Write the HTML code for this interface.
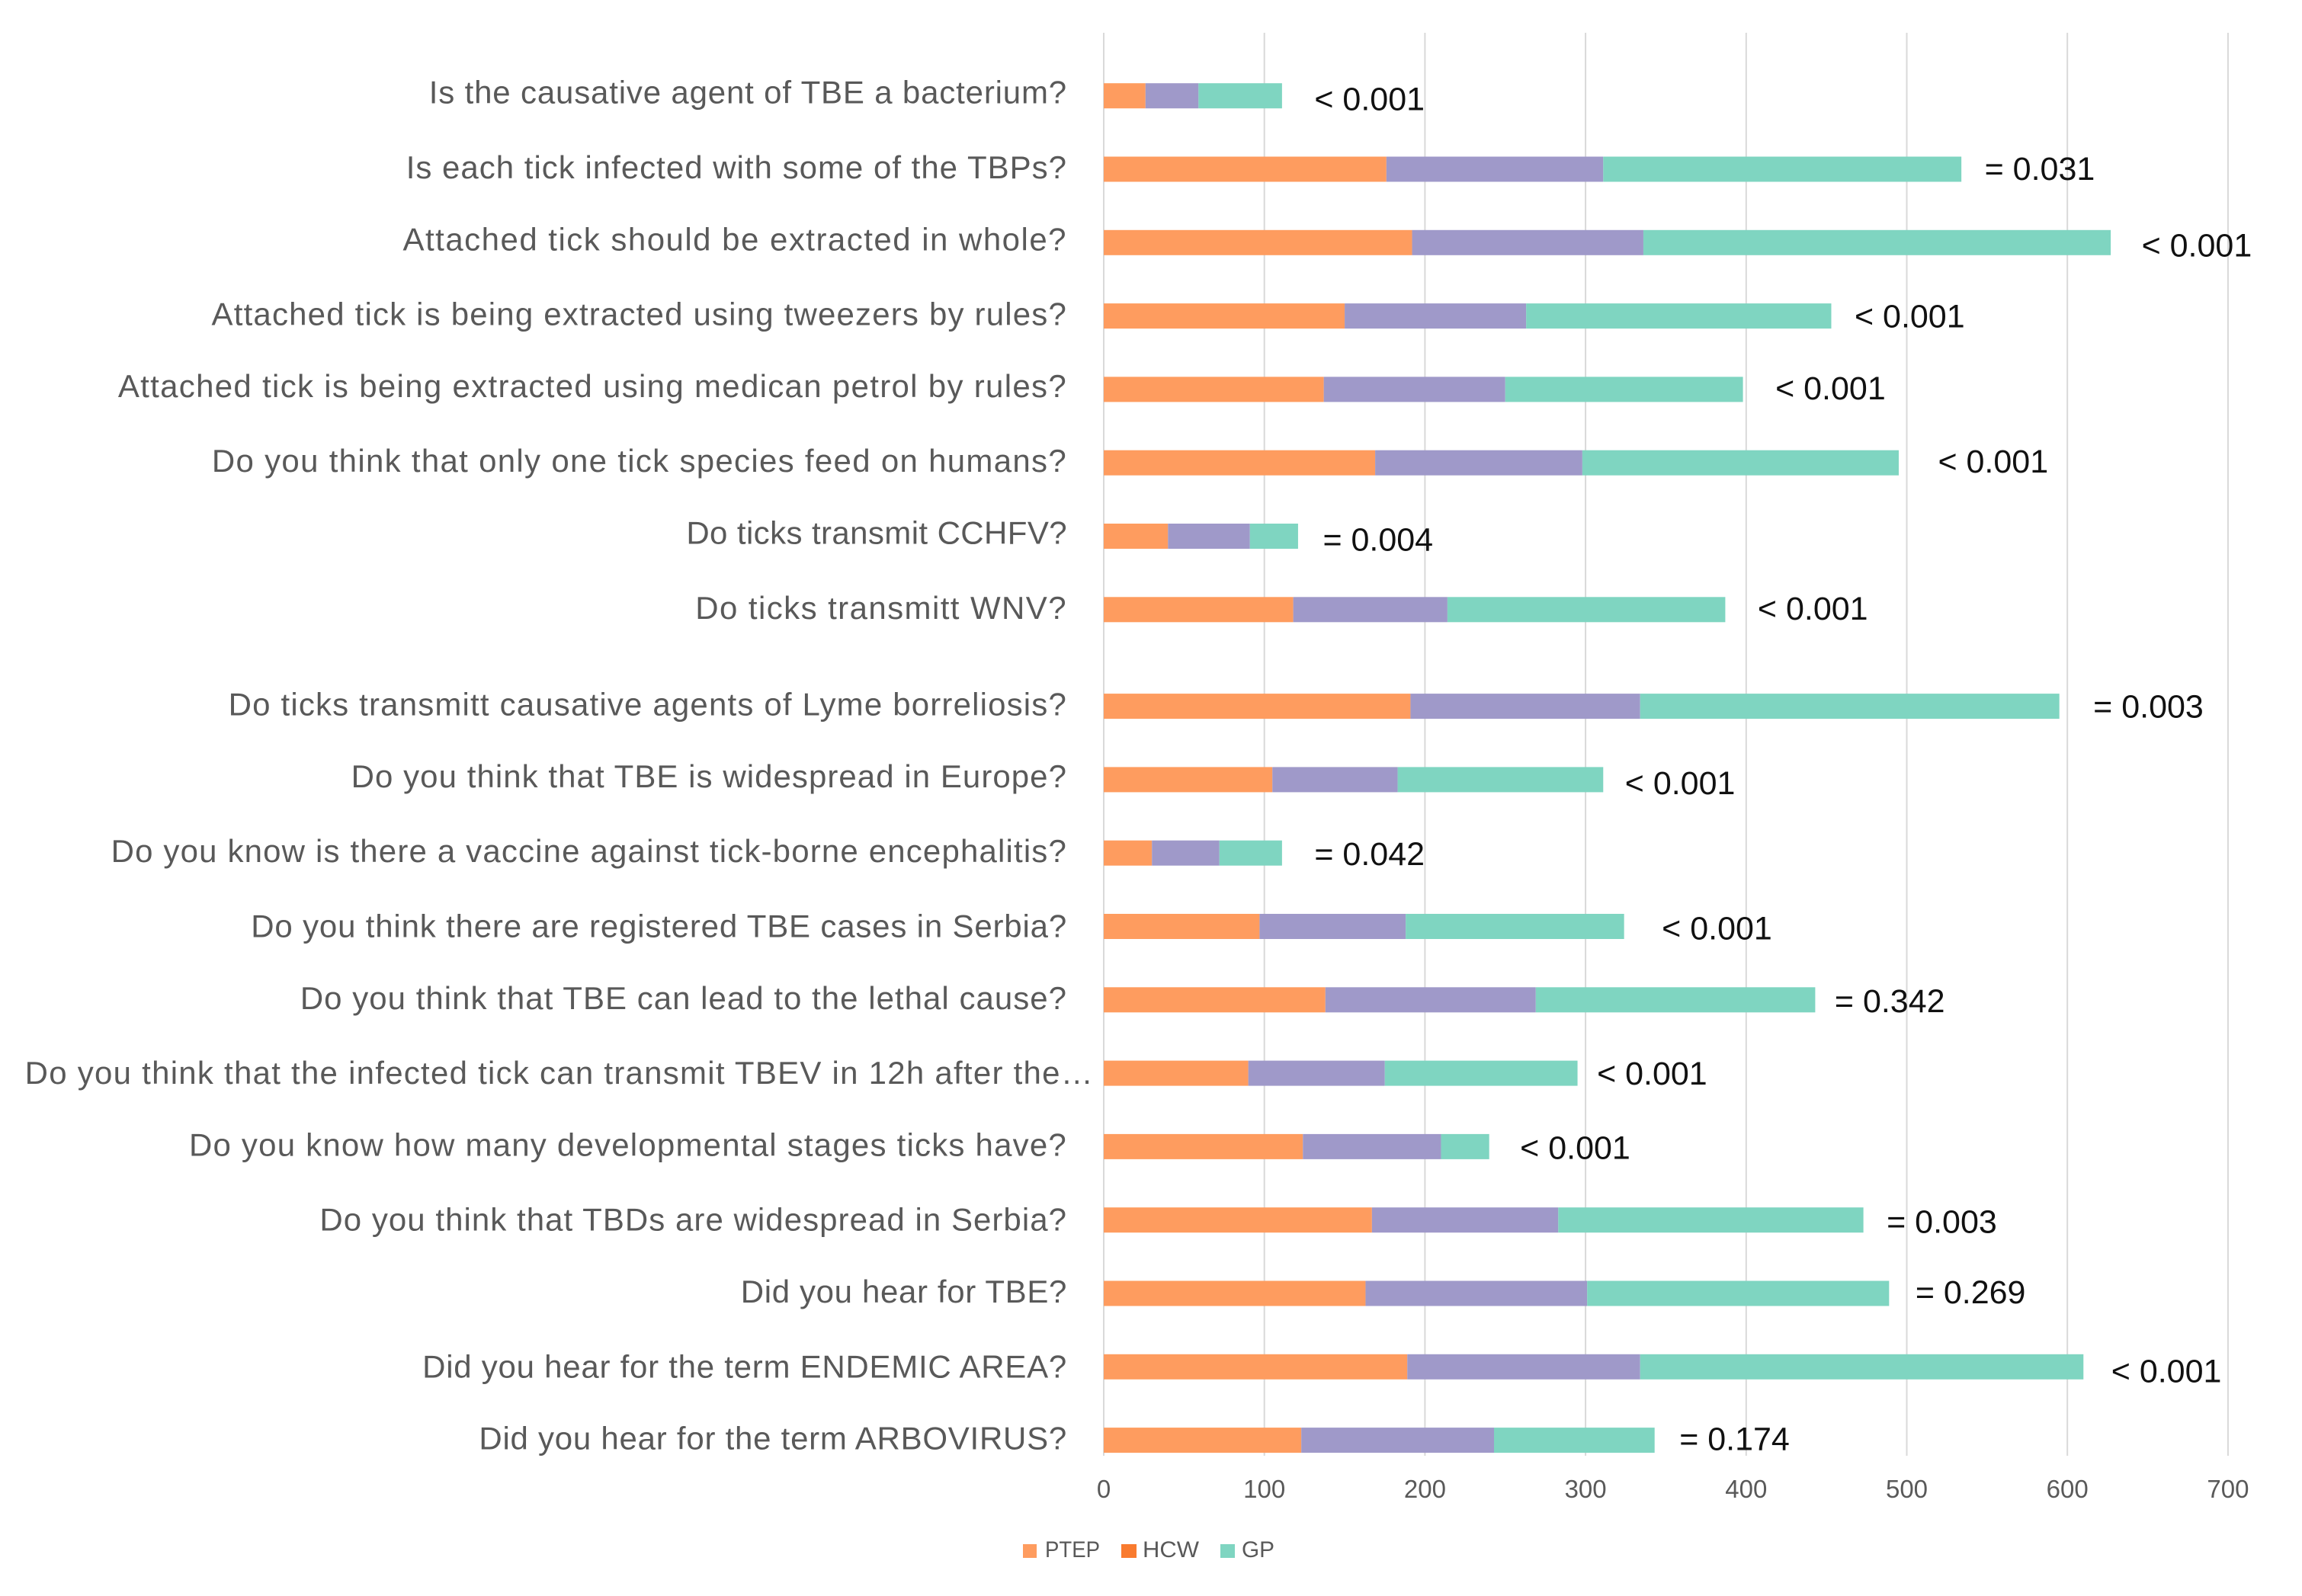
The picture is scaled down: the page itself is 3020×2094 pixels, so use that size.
<!DOCTYPE html>
<html lang="en">
<head>
<meta charset="utf-8">
<title>Tick-borne disease knowledge by group</title>
<style>
  html, body { margin: 0; padding: 0; background: #fff; }
  svg { display: block; font-family: "Liberation Sans", sans-serif; }
  .category-label { font-size: 42px; fill: #595959; text-anchor: end; }
  .tick-label { font-size: 33px; fill: #595959; text-anchor: middle; }
  .legend-label { font-size: 30px; fill: #595959; }
  .p-value { font-size: 43px; fill: #111; }
  .gridline { stroke: #d9d9d9; stroke-width: 2; }
  #categories text:nth-child(1)  { letter-spacing: 0.83px; translate: 0 -2px; }
  #categories text:nth-child(2)  { letter-spacing: 1.00px; }
  #categories text:nth-child(3)  { letter-spacing: 1.48px; translate: 0 -2px; }
  #categories text:nth-child(4)  { letter-spacing: 1.18px; }
  #categories text:nth-child(5)  { letter-spacing: 1.31px; translate: 0 -2px; }
  #categories text:nth-child(6)  { letter-spacing: 1.30px; }
  #categories text:nth-child(7)  { letter-spacing: 0.40px; translate: 0 -2px; }
  #categories text:nth-child(8)  { letter-spacing: 1.42px; }
  #categories text:nth-child(9)  { letter-spacing: 1.17px; }
  #categories text:nth-child(10) { letter-spacing: 1.05px; translate: 0 -2px; }
  #categories text:nth-child(11) { letter-spacing: 1.16px; }
  #categories text:nth-child(12) { letter-spacing: 0.82px; translate: 0 2px; }
  #categories text:nth-child(13) { letter-spacing: 1.02px; }
  #categories text:nth-child(14) { letter-spacing: 1.25px; translate: 0 2px; }
  #categories text:nth-child(15) { letter-spacing: 1.21px; }
  #categories text:nth-child(16) { letter-spacing: 1.04px; translate: 0 2px; }
  #categories text:nth-child(17) { letter-spacing: 0.64px; }
  #categories text:nth-child(18) { letter-spacing: 0.74px; translate: 0 2px; }
  #categories text:nth-child(19) { letter-spacing: 0.75px; }
</style>
</head>
<body>
<svg id="chart" width="3020" height="2094" viewBox="0 0 3020 2094" xmlns="http://www.w3.org/2000/svg">
  <rect x="0" y="0" width="3020" height="2094" fill="#ffffff"/>
  <g id="grid"></g>
  <g id="bars"></g>
  <g id="categories"></g>
  <g id="ticks"></g>
  <g id="pvalues">
    <text class="p-value" dx="4" dy="4">&lt; 0.001</text>
    <text class="p-value" dx="-8" dy="-1">= 0.031</text>
    <text class="p-value" dx="2" dy="3">&lt; 0.001</text>
    <text class="p-value" dx="-8" dy="0">&lt; 0.001</text>
    <text class="p-value" dx="4" dy="-2">&lt; 0.001</text>
    <text class="p-value" dx="13" dy="-2">&lt; 0.001</text>
    <text class="p-value" dx="-6" dy="4">= 0.004</text>
    <text class="p-value" dx="4" dy="-2">&lt; 0.001</text>
    <text class="p-value" dx="6" dy="0">= 0.003</text>
    <text class="p-value" dx="-10" dy="4">&lt; 0.001</text>
    <text class="p-value" dx="4" dy="1">= 0.042</text>
    <text class="p-value" dx="11" dy="2">&lt; 0.001</text>
    <text class="p-value" dx="-13" dy="1">= 0.342</text>
    <text class="p-value" dx="-13" dy="0">&lt; 0.001</text>
    <text class="p-value" dx="2" dy="1">&lt; 0.001</text>
    <text class="p-value" dx="-8" dy="2">= 0.003</text>
    <text class="p-value" dx="-4" dy="-2">= 0.269</text>
    <text class="p-value" dx="-2" dy="5">&lt; 0.001</text>
    <text class="p-value" dx="-6" dy="-2">= 0.174</text>
  </g>
  <g id="legend">
    <g>
      <rect x="1342" y="2026" width="18" height="18" fill="#fe9c5f"/>
      <text class="legend-label" x="1371" y="2043" textLength="72" lengthAdjust="spacingAndGlyphs">PTEP</text>
    </g>
    <g>
      <rect x="1471" y="2026" width="20" height="18" fill="#f97b2f"/>
      <text class="legend-label" x="1499" y="2043" textLength="74" lengthAdjust="spacingAndGlyphs">HCW</text>
    </g>
    <g>
      <rect x="1601" y="2026" width="19" height="18" fill="#7fd5c1"/>
      <text class="legend-label" x="1629" y="2043" textLength="43" lengthAdjust="spacingAndGlyphs">GP</text>
    </g>
  </g>
</svg>
<script>
const categories = [
  "Is the causative agent of TBE a bacterium?",
  "Is each tick infected with some of the TBPs?",
  "Attached tick should be extracted in whole?",
  "Attached tick is being extracted using tweezers by rules?",
  "Attached tick is being extracted using medican petrol by rules?",
  "Do you think that only one tick species feed on humans?",
  "Do ticks transmit CCHFV?",
  "Do ticks transmitt WNV?",
  "Do ticks transmitt causative agents of Lyme borreliosis?",
  "Do you think that TBE is widespread in Europe?",
  "Do you know is there a vaccine against tick-borne encephalitis?",
  "Do you think there are registered TBE cases in Serbia?",
  "Do you think that TBE can lead to the lethal cause?",
  "Do you think that the infected tick can transmit TBEV in 12h after the\u2026",
  "Do you know how many developmental stages ticks have?",
  "Do you think that TBDs are widespread in Serbia?",
  "Did you hear for TBE?",
  "Did you hear for the term ENDEMIC AREA?",
  "Did you hear for the term ARBOVIRUS?"
];
const ptepValues = [26, 176, 192, 150, 137, 169, 40, 118, 191, 105, 30, 97, 138, 90, 124, 167, 163, 189, 123];
const hcwValues = [33, 135, 144, 113, 113, 129, 51, 96, 143, 78, 42, 91, 131, 85, 86, 116, 138, 145, 120];
const gpValues = [52, 223, 291, 190, 148, 197, 30, 173, 261, 128, 39, 136, 174, 120, 30, 190, 188, 276, 100];
const tickLabels = [0, 100, 200, 300, 400, 500, 600, 700];

const NS = "http://www.w3.org/2000/svg";
const X0 = 1448, X_PER_UNIT = 2.107;
const ROW_TOP = 125.7, ROW_STEP = 96.3, SECTION_GAP = 30.5, SECTION_AFTER = 8;
const BAR_HEIGHT = 33, LABEL_RIGHT = 1400;

function xScale(v) { return X0 + v * X_PER_UNIT; }
function yScale(i) { return ROW_TOP + i * ROW_STEP + (i >= SECTION_AFTER ? SECTION_GAP : 0); }
function make(tag, parentId) {
  const el = document.createElementNS(NS, tag);
  document.getElementById(parentId).appendChild(el);
  return el;
}

tickLabels.forEach(function (t) {
  const line = make("line", "grid");
  
  
  line.setAttribute("class", "gridline");
  line.setAttribute("x1", xScale(t));
  line.setAttribute("x2", xScale(t));
  line.setAttribute("y1", 43);
  line.setAttribute("y2", 1910);

  const label = make("text", "ticks");
  
  
  label.setAttribute("class", "tick-label");
  label.setAttribute("x", xScale(t));
  label.setAttribute("y", 1965);
  label.textContent = t;
});

function drawSegment(start, value, i, color) {
  const seg = make("rect", "bars");
  seg.setAttribute("x", xScale(start));
  seg.setAttribute("y", yScale(i) - BAR_HEIGHT / 2);
  seg.setAttribute("width", value * X_PER_UNIT);
  seg.setAttribute("height", BAR_HEIGHT);
  seg.setAttribute("fill", color);
  return seg;
}

const pLabels = document.querySelectorAll("#pvalues text");

categories.forEach(function (name, i) {
  const p = ptepValues[i], h = hcwValues[i], g = gpValues[i];

  const segP = drawSegment(0, p, i, "#fe9c5f");
  
  

  const segH = drawSegment(p, h, i, "#9f99c9");
  
  

  const segG = drawSegment(p + h, g, i, "#7fd5c1");
  
  

  const label = make("text", "categories");
  
  
  label.setAttribute("class", "category-label");
  const right = name.endsWith("\u2026") ? LABEL_RIGHT + 35 : LABEL_RIGHT;
  label.setAttribute("x", right);
  label.setAttribute("y", yScale(i) + 12);
  label.textContent = name;

  pLabels[i].setAttribute("x", xScale(p + h + g) + 38.5);
  pLabels[i].setAttribute("y", yScale(i) + 15);
});
</script>
</body>
</html>
